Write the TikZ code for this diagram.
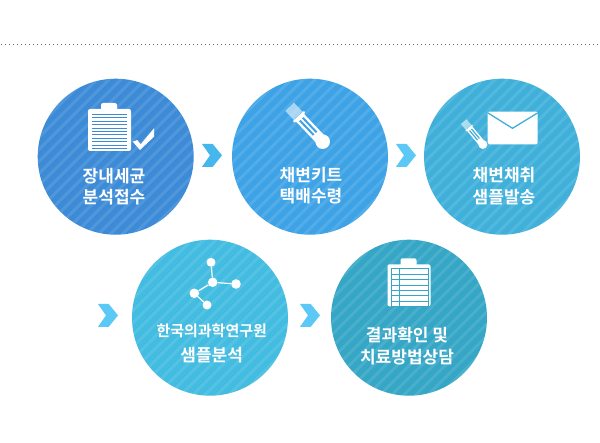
\documentclass[tikz,border=0pt]{standalone}
\usepackage{fontspec}
\setmainfont{Noto Sans CJK KR}[BoldFont={* Bold}]
\definecolor{discA}{HTML}{3D8BD6}
\definecolor{discB}{HTML}{3EA3E6}
\definecolor{discC}{HTML}{40B0DA}
\definecolor{discD}{HTML}{42BCE0}
\definecolor{discE}{HTML}{35A6C6}
\definecolor{chevA}{HTML}{45B7EC}
\definecolor{chevB}{HTML}{5CC8F5}
\tikzset{
  every node/.style={align=center},
  disc/.style={circle,minimum size=156pt,inner sep=0pt,fill=#1,
    path picture={
      \foreach \k in {-12,...,12}
        \draw[white,opacity=.1,line width=3pt]
          ([shift={(\k*12-90,90)}]path picture bounding box.center) -- ([shift={(\k*12+90,-90)}]path picture bounding box.center);
    }},
  steptext/.style={text=white,font=\fontsize{17}{21}\selectfont\bfseries,inner sep=0pt},
  atom/.style={circle,fill=white,inner sep=0pt,minimum size=#1},
  bond/.style={white,line width=1.2pt},
  pics/chevron/.style={code={
    \fill[#1] (0,0) -- (10.7,0) -- (20,11.4) -- (10.7,22.8) -- (0,22.8) -- (8,11.4) -- cycle;
  }},
  pics/testtube/.style={code={
    \fill[white,opacity=.55] (-14,-6) rectangle (-2,6);
    \fill[white,rounded corners=.8pt] (-1.5,-7.5) rectangle (1,7.5);
    \fill[white] (0,-5.5) rectangle (30,5.5);
    \fill[white] (34,0) circle (7.3);
    \fill[#1] (3,-3) rectangle (23,-1);
    \fill[#1] (3,1) rectangle (23,3);
  }},
  pics/board/.style={code={
    \fill[white,rounded corners=2pt] (0,6) rectangle (43,48);
    \fill[white,rounded corners=2pt] (13,0) rectangle (29,10);
  }},
}
\begin{document}
\begin{tikzpicture}[x=1pt,y=-1pt]
    \useasboundingbox (0,0) rectangle (600,443);
    \fill[white] (0,0) rectangle (600,443);
    % dotted rule
    \foreach \x in {1,5,...,597}
      \fill[black!60] (\x,43.6) rectangle ++(1.2,1.2);

    \node[disc=discA] (intake) at (115.7,156.7) {};
    \node[disc=discB] (kit) at (310,156.7) {};
    \node[disc=discC] (sample) at (502,156.7) {};
    \node[disc=discD] (lab) at (210,317.7) {};
    \node[disc=discE] (result) at (409,317.7) {};

    \pic at (202,144) {chevron=chevA};
    \pic at (396,144) {chevron=chevB};
    \pic at (98,304) {chevron=chevB};
    \pic at (300,304) {chevron=chevB};

    % intake: list and tick
    \pic at (88,103) {board};
    \foreach \y in {114,117.4,...,148.5}
      \fill[discA] (92,\y) rectangle (127,\y+1);
    \fill[white] (132.7,141.7) -- (137.3,140) -- (140.7,144.3) -- (154,128.3) -- (154,136.7) -- (140,150) -- cycle;

    % kit
    \pic[rotate=-46.5] at (299.3,117) {testtube=discB};

    % sample
    \pic[rotate=-50,scale=.62] at (469.3,128.3) {testtube=discC};
    \fill[white,rounded corners=1.5pt] (487.7,111.7) rectangle (537.7,144.3);
    \draw[discC,line width=1.3pt] (488,113) -- (512.5,128.3) -- (537.5,113);

    % lab: molecule
    \node[atom=9pt] (atomT) at (211,262.3) {};
    \node[atom=9.6pt] (atomC) at (212.7,282.3) {};
    \node[atom=9.6pt] (atomR) at (236,284) {};
    \node[atom=9.6pt] (atomL) at (194.3,293.3) {};
    \node[atom=9pt] (atomB) at (207,305) {};
    \draw[bond] (atomT) -- (atomC);
    \draw[bond] (atomC) -- (atomR);
    \draw[bond] (atomC) -- (atomL);
    \draw[bond] (atomL) -- (atomB);

    % result: table on board
    \pic at (387.5,258.3) {board};
    \draw[discE,line width=1pt] (391,269) rectangle (428.5,307);
    \draw[discE,line width=1pt] (399.3,269) -- (399.3,307);
    \foreach \y in {274.4,279.8,...,302}
      \draw[discE,line width=1pt] (391,\y) -- (428.5,\y);

    \node[steptext] (intakeA) at (114,176) {장내세균};
    \node[steptext] (intakeB) at (114,196.7) {분석접수};
    \node[steptext] (kitA) at (311,175) {채변키트};
    \node[steptext] (kitB) at (311,196) {택배수령};
    \node[steptext] (sampleA) at (504,175) {채변채취};
    \node[steptext] (sampleB) at (504,196.7) {샘플발송};
    \node[steptext,font=\fontsize{15}{18}\selectfont\bfseries] (labA) at (211.7,330.7) {한국의과학연구원};
    \node[steptext] (labB) at (211.7,355) {샘플분석};
    \node[steptext] (resultA) at (407,335) {결과확인 및};
    \node[steptext] (resultB) at (407,356.7) {치료방법상담};
\end{tikzpicture}
\end{document}
